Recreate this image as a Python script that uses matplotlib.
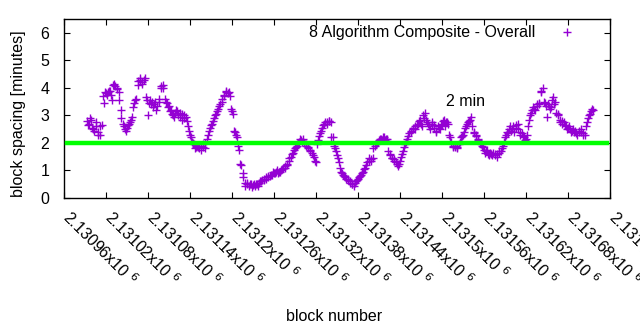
import numpy as np
import matplotlib
matplotlib.use("Agg")
import matplotlib.pyplot as plt
from matplotlib.transforms import ScaledTranslation

plt.rcParams['font.family'] = ['Liberation Sans', 'DejaVu Sans']

# block spacing values (minutes)
# series A: every 3rd block starting at block 2130993
first_block_a = 2130993
block_step = 3
spacing_a = [
    2.8, 2.7, 2.85, 2.5, 2.6, 2.4, 2.3, 2.65, 3.45, 3.8,
    3.85, 3.9, 3.55, 4.15, 4.0, 3.85, 3.2, 2.7, 2.5, 2.55,
    2.7, 2.85, 3.3, 3.55, 4.1, 4.35, 4.2, 4.3, 3.65, 3.0,
    3.55, 3.5, 3.4, 3.2, 3.5, 4.05, 4.0, 3.6, 3.45, 3.35,
    3.2, 3.0, 3.1, 3.15, 2.95, 3.05, 2.9, 2.95, 2.6, 2.3,
    2.05, 1.95, 1.85, 1.85, 1.75, 1.85, 2.0, 2.15, 2.45, 2.65,
    2.8, 3.0, 3.15, 3.35, 3.5, 3.75, 3.85, 3.8, 3.7, 3.15,
    2.45, 2.3, 1.9, 1.25, 0.9, 0.55, 0.5, 0.45, 0.5, 0.48,
    0.45, 0.5, 0.55, 0.6, 0.65, 0.7, 0.75, 0.8, 0.85, 0.9,
    0.95, 0.9, 0.95, 1.05, 1.1, 1.2, 1.35, 1.5, 1.65, 1.8,
    1.9, 2.05, 2.1, 2.15, 1.95, 1.85, 1.75, 1.65, 1.5, 1.3,
    2.1, 2.35, 2.55, 2.7, 2.75, 2.8, 2.75, 2.2, 1.8, 1.55,
    1.3, 0.95, 0.85, 0.75, 0.7, 0.6, 0.5, 0.45, 0.6, 0.7,
    0.8, 0.9, 1.05, 1.2, 1.35, 1.4, 1.45, 1.9, 2.0, 2.1,
    2.15, 2.2, 2.1, 2.15, 1.6, 1.45, 1.4, 1.3, 1.15, 1.35,
    1.6, 1.85, 2.05, 2.25, 2.45, 2.5, 2.6, 2.65, 2.8, 2.7,
    3.0, 3.1, 2.75, 2.6, 2.7, 2.55, 2.45, 2.6, 2.5, 2.7,
    2.85, 2.75, 2.7, 2.2, 1.9, 1.85, 1.8, 1.95, 2.2, 2.3,
    2.55, 2.7, 2.8, 2.95, 2.4, 2.3, 2.15, 2.0, 1.9, 1.75,
    1.7, 1.6, 1.65, 1.55, 1.6, 1.5, 1.65, 1.7, 1.9, 2.2,
    2.4, 2.5, 2.45, 2.6, 2.55, 2.7, 2.4, 2.35, 2.2, 2.15,
    2.6, 3.0, 3.2, 3.25, 3.35, 3.4, 3.9, 4.0, 3.45, 2.95,
    3.35, 3.3, 3.65, 3.5, 3.05, 2.85, 2.7, 2.75, 2.6, 2.55,
    2.5, 2.45, 2.4, 2.35, 2.4, 2.5, 2.35, 2.3, 2.75, 3.0,
    3.15, 3.2,
]
# series B: every 3rd block starting at block 2130994
first_block_b = 2130994
spacing_b = [
    2.65, 2.9, 2.55, 2.45, 2.75, 2.3, 2.6, 3.7, 3.85, 3.75,
    3.9, 3.75, 4.1, 4.05, 3.95, 3.55, 2.9, 2.6, 2.45, 2.65,
    2.75, 2.95, 3.45, 3.6, 4.25, 4.3, 4.15, 4.35, 3.55, 3.45,
    3.4, 3.3, 3.5, 3.35, 3.6, 4.0, 4.1, 3.5, 3.3, 3.15,
    3.05, 2.95, 3.2, 3.0, 3.1, 2.85, 3.0, 2.8, 2.45, 2.2,
    2.0, 1.8, 1.9, 1.8, 1.9, 1.95, 1.8, 2.3, 2.55, 2.7,
    2.9, 3.05, 3.25, 3.4, 3.6, 3.7, 3.9, 3.85, 3.25, 3.05,
    2.4, 2.2, 1.75, 1.2, 0.75, 0.45, 0.55, 0.5, 0.4, 0.5,
    0.5, 0.45, 0.6, 0.65, 0.7, 0.75, 0.8, 0.85, 0.95, 0.9,
    1.0, 0.95, 1.0, 1.1, 1.15, 1.25, 1.45, 1.6, 1.75, 1.85,
    2.0, 2.15, 2.05, 2.0, 1.9, 1.8, 1.7, 1.55, 1.35, 1.95,
    2.25, 2.45, 2.65, 2.75, 2.7, 2.8, 2.2, 1.9, 1.7, 1.45,
    1.1, 0.9, 0.8, 0.7, 0.65, 0.55, 0.5, 0.55, 0.65, 0.75,
    0.85, 0.95, 1.1, 1.3, 1.45, 1.35, 1.8, 1.95, 2.05, 2.15,
    2.1, 2.2, 2.15, 1.7, 1.55, 1.45, 1.35, 1.25, 1.25, 1.5,
    1.7, 1.95, 2.15, 2.35, 2.4, 2.55, 2.5, 2.7, 2.85, 2.6,
    2.9, 2.85, 2.7, 2.5, 2.75, 2.65, 2.4, 2.55, 2.65, 2.8,
    2.6, 2.75, 2.3, 2.05, 1.85, 1.9, 1.85, 2.05, 2.25, 2.4,
    2.6, 2.75, 2.85, 2.6, 2.35, 2.25, 2.1, 1.95, 1.85, 1.65,
    1.75, 1.55, 1.6, 1.65, 1.55, 1.6, 1.7, 1.8, 2.05, 2.3,
    2.35, 2.6, 2.5, 2.4, 2.65, 2.5, 2.3, 2.25, 2.1, 2.3,
    2.85, 3.1, 3.3, 3.2, 3.4, 3.45, 3.85, 3.5, 3.35, 3.4,
    3.25, 3.55, 3.4, 3.1, 3.0, 2.75, 2.8, 2.65, 2.5, 2.6,
    2.4, 2.5, 2.45, 2.3, 2.45, 2.4, 2.3, 2.6, 2.9, 3.05,
    3.25,
]
blocks_a = first_block_a + block_step * np.arange(len(spacing_a))
blocks_b = first_block_b + block_step * np.arange(len(spacing_b))
blocks = np.concatenate([blocks_a, blocks_b])
spacing = np.concatenate([spacing_a, spacing_b])

target_minutes = 2.0
series_label = "8 Algorithm Composite - Overall"
annotation_text = "2 min"
annotation_pos = (2131506, 3.5)

x_ticks = [2130960 + 60 * k for k in range(14)]
x_tick_text = ["2.13096", "2.13102", "2.13108", "2.13114", "2.1312", "2.13126",
               "2.13132", "2.13138", "2.13144", "2.1315", "2.13156", "2.13162",
               "2.13168", "2.13174"]
x_tick_labels = [t + r"x10 $^{6}$" for t in x_tick_text]
y_ticks = [0, 1, 2, 3, 4, 5, 6]

FS = 11.5

fig = plt.figure(figsize=(6.4, 3.3), dpi=100)
ax = fig.add_axes([64/640, 1 - 198/330, (610-64)/640, (198-19)/330])

ax.plot(blocks, spacing, linestyle='none', marker='+', color='#9400D3',
        markersize=6, markeredgewidth=1.0, label=series_label, zorder=2)
ax.axhline(target_minutes, xmin=0.005, xmax=0.994, color='#00FF00', linewidth=3.2, zorder=3)

ax.text(annotation_pos[0], annotation_pos[1], annotation_text, ha='left', va='center', fontsize=FS)

ax.set_xlim(x_ticks[0], x_ticks[-1])
ax.set_ylim(0, 6.5)
ax.set_xticks(x_ticks)
ax.set_xticklabels(x_tick_labels, rotation=-45, ha='left', va='baseline',
                   rotation_mode='anchor', fontsize=FS)
ax.set_yticks(y_ticks)
ax.set_yticklabels([str(v) for v in y_ticks], fontsize=FS)
ax.tick_params(direction='in', top=True, right=True, length=4.5, width=0.8)
ax.tick_params(axis='x', pad=14.5)
ax.tick_params(axis='y', pad=10.5)
for s in ax.spines.values():
    s.set_linewidth(1.0)

shift = ScaledTranslation(-3/100, 0, fig.dpi_scale_trans)
for lbl in ax.get_xticklabels():
    lbl.set_transform(lbl.get_transform() + shift)

ax.set_xlabel("block number", fontsize=FS)
ax.xaxis.set_label_coords((334-64)/546, (198-309)/179)
ax.set_ylabel("block spacing [minutes]", fontsize=FS)
ax.yaxis.set_label_coords((26-64)/546, 0.47)

ax.legend(loc='upper right', frameon=False, markerfirst=False, fontsize=FS,
          handlelength=2.0, handletextpad=1.0, borderaxespad=0.0,
          bbox_to_anchor=((589.4-64)/546, (198-19.0)/179))

fig.savefig("out.png", dpi=100)
